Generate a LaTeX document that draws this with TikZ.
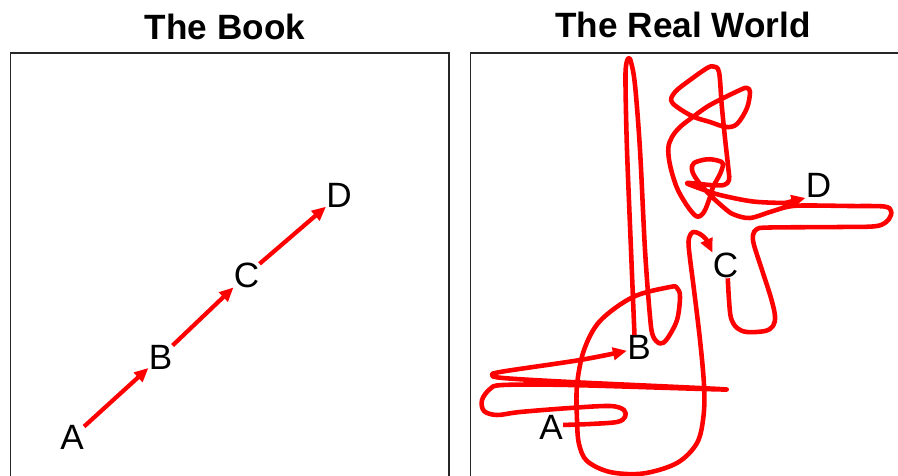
\documentclass[tikz,border=0pt]{standalone}
\usepackage{fontspec}
\setmainfont{Liberation Sans}
\usetikzlibrary{arrows.meta}

\begin{document}
\begin{tikzpicture}[x=0.02cm,y=-0.02cm,
  lbl/.style={inner sep=0pt,font=\fontsize{20}{24}\selectfont},
  ttl/.style={inner sep=0pt,font=\fontsize{20}{24}\selectfont\bfseries},
  panel/.style={draw=black!85,line width=0.6pt},
  redarrow/.style={red,line width=2.4pt,-{Triangle[length=8pt,width=7pt]}},
  wiggle/.style={redarrow,line width=2.6pt,line join=round,smooth,tension=0.55}]
\useasboundingbox (0,0) rectangle (898,476);
\clip (0,0) rectangle (898,476);

\node[ttl] (booktitle) at (225,27) {The Book};
\node[ttl] (worldtitle) at (683,25) {The Real World};
\draw[panel] (10.5,53) rectangle (449,490);
\draw[panel] (470.5,53) rectangle (910,490);

\node[lbl] (bA) at (72,437.5) {A};
\node[lbl] (bB) at (160.5,357) {B};
\node[lbl] (bC) at (246.5,275) {C};
\node[lbl] (bD) at (339,195.5) {D};
\draw[redarrow] (bA) -- (bB);
\draw[redarrow] (bB) -- (bC);
\draw[redarrow] (bC) -- (bD);

\node[lbl] (wA) at (551,427.5) {A};
\node[lbl] (wB) at (639,347.5) {B};
\node[lbl] (wC) at (725.5,265.5) {C};
\node[lbl] (wD) at (818.5,185.5) {D};

\draw[wiggle] plot coordinates {(wA.12) (590,424) (617,422) (625,417) (624,410)
  (610,406) (570,408) (520,412) (497,415) (484,411) (482,400) (490,389)
  (503,385) (570,385) (726.7,389.5) (570,382) (503,378) (492,375) (503,371.5)
  (580,360) (wB.195)};

\draw[wiggle] plot coordinates {(wB.110) (631,250) (627,150) (625.5,85) (626,66)
  (628.3,58.3) (631,62) (635,85) (640,150) (645,250) (650,316.7) (653,336)
  (660,343.5) (667,339) (677,320) (680,296.7) (677,288) (670,287) (633,297)
  (600,321) (584,350) (577,385) (577,420) (579,444) (587,461) (610,472)
  (643,473.5) (677,463) (697,443) (703.5,416) (704,385) (700,340) (694,290)
  (689,250) (689,238) (693,232) (700,234) (706,239)} -- (wC.north west);

\draw[wiggle] plot coordinates {(wC.-80) (729,300) (731,318) (737,328) (747,332)
  (765,331) (773,326) (775,316) (771,298) (762,270) (754,245) (753,235)
  (757,229) (770,227.5) (840,227) (877,226) (889,219) (891,211) (884,206.5)
  (850,206) (803,205.5) (786.7,207) (770,212) (750,218) (735,215) (726.7,210)
  (710,195) (697,180) (692,170) (694,163) (707,159.3) (718.3,160.7) (723,164)
  (720,174) (713,187) (710,197) (704,212) (697,216.5) (688,207) (677,188)
  (670,165) (668.3,148) (672,137) (680,127) (693.3,116.7) (710,105) (740,90)
  (747,88) (750,92) (747,108) (737,124) (726,127) (710,122) (693.3,116.7)
  (677,107) (671,100) (676,91) (690,80) (706.7,68.3) (713.3,66.5) (719,72)
  (721.7,105) (725,138.3) (728.5,170) (729,180) (724,185) (710,185) (687,183)
  (700,188.5) (720,195) (753,201.5) (785,203)} -- (wD.south west);
\end{tikzpicture}
\end{document}
